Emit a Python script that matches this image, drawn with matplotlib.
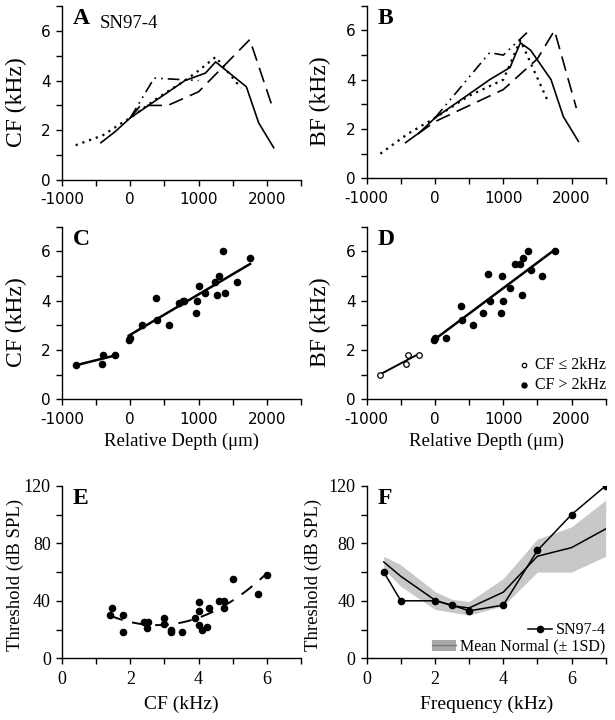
import numpy as np
import matplotlib
matplotlib.use("Agg")
import matplotlib.pyplot as plt
from matplotlib.patches import Patch
from matplotlib.lines import Line2D

SERIF = "Liberation Serif"
SANS = "DejaVu Sans"

# ---------------- Panel A (CF vs relative depth, 4 tracks) ----------------
a_solid_x = [-430, -220, 0, 800, 1100, 1250, 1700, 1880, 2100]
a_solid_y = [1.5, 1.95, 2.5, 4.0, 4.3, 4.75, 3.75, 2.3, 1.3]
a_dot_x = [-800, -400, -150, 0, 400, 800, 1000, 1250, 1620]
a_dot_y = [1.4, 1.8, 2.25, 2.5, 3.3, 4.0, 4.4, 4.95, 3.7]
a_dash_x = [0, 150, 550, 1000, 1750, 2080]
a_dash_y = [2.5, 3.0, 3.0, 3.55, 5.65, 2.95]
a_dd_x = [0, 350, 1000]
a_dd_y = [2.5, 4.1, 4.0]

# ---------------- Panel B (BF vs relative depth, 4 tracks) ----------------
b_solid_x = [-430, -230, 0, 800, 1100, 1250, 1400, 1700, 1880, 2100]
b_solid_y = [1.45, 1.85, 2.45, 4.0, 4.5, 5.5, 5.2, 4.0, 2.5, 1.5]
b_dot_x = [-800, -400, 0, 500, 1000, 1250, 1650]
b_dot_y = [1.0, 1.8, 2.45, 3.35, 4.0, 5.6, 3.15]
b_dash_x = [-250, 0, 1000, 1500, 1750, 2070]
b_dash_y = [1.8, 2.3, 3.6, 4.85, 6.0, 2.85]
b_dd_x = [0, 800, 1000, 1400]
b_dd_y = [2.45, 5.1, 5.0, 6.05]

# ---------------- Panel C (CF scatter) ----------------
c_depth = [-800, -420, -400, -230, -20, 0, 170, 370, 390, 560, 710, 765, 790,
           965, 975, 1000, 1100, 1245, 1270, 1295, 1365, 1390, 1560, 1755]
c_cf = [1.4, 1.45, 1.8, 1.8, 2.4, 2.5, 3.0, 4.1, 3.2, 3.0, 3.9, 4.0, 4.0,
        3.5, 4.0, 4.6, 4.3, 4.75, 4.25, 5.0, 6.0, 4.3, 4.75, 5.75]

# ---------------- Panel D (BF scatter) ----------------
d_low_depth = [-800, -420, -400, -230]
d_low_bf = [1.0, 1.45, 1.8, 1.8]
d_high_depth = [-20, 0, 160, 375, 400, 560, 700, 770, 800, 965, 975, 990,
                1100, 1170, 1245, 1270, 1295, 1365, 1400, 1560, 1755]
d_high_bf = [2.4, 2.5, 2.5, 3.8, 3.2, 3.0, 3.5, 5.1, 4.0, 3.5, 5.0, 4.0,
             4.5, 5.5, 5.5, 4.25, 5.75, 6.0, 5.25, 5.0, 6.0]

# ---------------- Panel E (threshold vs CF) ----------------
e_cf = [1.4, 1.46, 1.8, 1.8, 2.4, 2.52, 2.5, 3.0, 3.0, 3.2, 3.2, 3.5,
        3.9, 4.0, 4.0, 4.0, 4.1, 4.25, 4.3, 4.6, 4.75, 4.75, 5.0, 5.75, 6.0]
e_thr = [30, 35, 30, 18, 25, 25, 21, 28, 24, 20, 18, 18,
         28, 39, 33, 23, 20, 22, 35, 40, 40, 35, 55, 45, 58]

# ---------------- Panel F (audiogram) ----------------
f_freq = [0.5, 1, 2, 2.5, 3, 4, 5, 6, 7]
f_sn = [60, 40, 40, 37, 33, 37, 75, 100, 120]
f_mean = [67, 57, 40.5, 36.5, 35, 46, 71, 77, 90]
f_upper = [71, 65, 46.5, 41, 39.5, 55.5, 83, 91.5, 110]
f_lower = [62, 50, 34, 32, 30, 36.5, 60, 60, 71]

fig = plt.figure(figsize=(6.15, 7.2), dpi=100)

W = 239 / 615
H = 172.5 / 720
xl, xr = 62 / 615, 366.7 / 615
axA = fig.add_axes([xl, (720 - 180) / 720, W, 174 / 720])
axB = fig.add_axes([xr, (720 - 178.3) / 720, W, H])
axC = fig.add_axes([xl, (720 - 399.3) / 720, W, H])
axD = fig.add_axes([xr, (720 - 399.3) / 720, W, H])
axE = fig.add_axes([xl, (720 - 658.3) / 720, W, H])
axF = fig.add_axes([xr, (720 - 658.3) / 720, W, H])


def style(ax, sans_ticks=True):
    for s in ("top", "right"):
        ax.spines[s].set_visible(False)
    for s in ("left", "bottom"):
        ax.spines[s].set_linewidth(1.0)
    fam = SANS if sans_ticks else SERIF
    size = 11 if sans_ticks else 13
    ax.tick_params(which="both", direction="out", length=4, width=1.0)
    ax.tick_params(axis="x", pad=5 if sans_ticks else 5.5)
    ax.tick_params(axis="y", pad=4)
    for lab in ax.get_xticklabels() + ax.get_yticklabels():
        lab.set_family(fam)
        lab.set_fontsize(size)


def depth_axes(ax, ylabel, xpos):
    ax.set_xlim(-1000, 2500)
    ax.set_ylim(0, 7)
    ax.set_xticks(np.arange(-1000, 2501, 500))
    ax.set_xticklabels(["-1000", "", "0", "", "1000", "", "2000", ""])
    ax.set_yticks(np.arange(0, 7.1, 1))
    ax.set_yticklabels(["0", "", "2", "", "4", "", "6", ""])
    ax.set_ylabel(ylabel, family=SERIF, fontsize=17)
    ax.yaxis.set_label_coords(xpos, 0.445)
    style(ax, True)


def letter(ax, s):
    ax.text(0.045, 0.99, s, transform=ax.transAxes, family=SERIF,
            fontweight="bold", fontsize=17, va="top", ha="left")


lw = 1.2
st_dot = (0, (1, 2.2))
st_dash = (0, (9, 4.5))
st_dd = (0, (7, 3, 1, 3, 1, 3))

# A
axA.plot(a_solid_x, a_solid_y, color="k", lw=lw)
axA.plot(a_dot_x, a_dot_y, color="k", lw=1.6, ls=st_dot)
axA.plot(a_dash_x, a_dash_y, color="k", lw=lw, ls=st_dash)
axA.plot(a_dd_x, a_dd_y, color="k", lw=lw, ls=st_dd)
depth_axes(axA, "CF (kHz)", -0.145)
letter(axA, "A")
axA.text(0.16, 0.90, "SN97-4", transform=axA.transAxes, family=SERIF,
         fontsize=13.5, va="center", ha="left")

# B
axB.plot(b_solid_x, b_solid_y, color="k", lw=lw)
axB.plot(b_dot_x, b_dot_y, color="k", lw=1.6, ls=st_dot)
axB.plot(b_dash_x, b_dash_y, color="k", lw=lw, ls=st_dash)
axB.plot(b_dd_x, b_dd_y, color="k", lw=lw, ls=st_dd)
depth_axes(axB, "BF (kHz)", -0.15)
letter(axB, "B")

# C
cx = np.array(c_depth, float)
cy = np.array(c_cf, float)
lo = cx < -100
hi = ~lo
axC.scatter(cx, cy, s=20, color="k", zorder=3)
for m in (lo, hi):
    p = np.polyfit(cx[m], cy[m], 1)
    xx = np.array([cx[m].min(), cx[m].max()])
    axC.plot(xx, np.polyval(p, xx), color="k", lw=1.8)
depth_axes(axC, "CF (kHz)", -0.145)
axC.set_xlabel("Relative Depth (\u03bcm)", family=SERIF, fontsize=13.5,
               labelpad=4)
letter(axC, "C")

# D
dlx = np.array(d_low_depth, float)
dly = np.array(d_low_bf, float)
dhx = np.array(d_high_depth, float)
dhy = np.array(d_high_bf, float)
axD.scatter(dlx, dly, s=16, facecolor="white", edgecolor="k", lw=0.9,
            zorder=3, label="CF \u2264 2kHz")
axD.scatter(dhx, dhy, s=20, color="k", zorder=3, label="CF > 2kHz")
p = np.polyfit(dlx, dly, 1)
xx = np.array([dlx.min(), dlx.max()])
axD.plot(xx, np.polyval(p, xx), color="k", lw=1.4)
p = np.polyfit(dhx, dhy, 1)
xx = np.array([dhx.min(), dhx.max()])
axD.plot(xx, np.polyval(p, xx), color="k", lw=1.8)
depth_axes(axD, "BF (kHz)", -0.15)
axD.set_xlabel("Relative Depth (\u03bcm)", family=SERIF, fontsize=13.5,
               labelpad=4)
letter(axD, "D")
axD.legend(loc="lower right", frameon=False, prop={"family": SERIF,
           "size": 11.5}, handletextpad=0.1, borderaxespad=0.0,
           labelspacing=0.25, markerscale=0.8, handlelength=1.2,
           bbox_to_anchor=(1.03, 0.0))

# E
ex = np.array(e_cf, float)
ey = np.array(e_thr, float)
axE.scatter(ex, ey, s=20, color="k", zorder=3)
p2 = np.polyfit(ex, ey, 2)
xx = np.linspace(ex.min(), ex.max(), 100)
axE.plot(xx, np.polyval(p2, xx), color="k", lw=1.4, ls=(0, (7, 5)))
axE.set_xlim(0, 7)
axE.set_ylim(0, 120)
axE.set_xticks(np.arange(0, 8, 1))
axE.set_xticklabels(["0", "", "2", "", "4", "", "6", ""])
axE.set_yticks(np.arange(0, 121, 20))
axE.set_yticklabels(["0", "", "40", "", "80", "", "120"])
axE.set_ylabel("Threshold (dB SPL)", family=SERIF, fontsize=13.5)
axE.yaxis.set_label_coords(-0.16, 0.483)
axE.set_xlabel("CF (kHz)", family=SERIF, fontsize=14, labelpad=5)
style(axE, False)
letter(axE, "E")

# F
axF.fill_between(f_freq, f_lower, f_upper, color="#c8c8c8", lw=0)
axF.plot(f_freq, f_mean, color="k", lw=1.1)
axF.plot(f_freq, f_sn, color="k", lw=1.1, marker="o", ms=4.5)
axF.set_xlim(0, 7)
axF.set_ylim(0, 120)
axF.set_xticks(np.arange(0, 8, 1))
axF.set_xticklabels(["0", "", "2", "", "4", "", "6", ""])
axF.set_yticks(np.arange(0, 121, 20))
axF.set_yticklabels(["0", "", "40", "", "80", "", "120"])
axF.set_ylabel("Threshold (dB SPL)", family=SERIF, fontsize=13.5)
axF.yaxis.set_label_coords(-0.185, 0.483)
axF.set_xlabel("Frequency (kHz)", family=SERIF, fontsize=14, labelpad=5)
style(axF, False)
letter(axF, "F")
h1 = Line2D([], [], color="k", lw=1.1, marker="o", ms=4.5)
h2 = (Patch(facecolor="#a8a8a8", edgecolor="none"),
      Line2D([], [], color="#777777", lw=1.0))
legkw = dict(loc="lower right", frameon=False,
             prop={"family": SERIF, "size": 11.5}, handletextpad=0.25,
             borderaxespad=0.0, borderpad=0.0, handlelength=1.5)
leg1 = axF.legend([h1], ["SN97-4"], bbox_to_anchor=(1.0, 0.115), **legkw)
axF.add_artist(leg1)
axF.legend([h2], ["Mean Normal (\u00b1 1SD)"], bbox_to_anchor=(1.0, 0.02),
           **legkw)

fig.savefig("out.png", dpi=100)
